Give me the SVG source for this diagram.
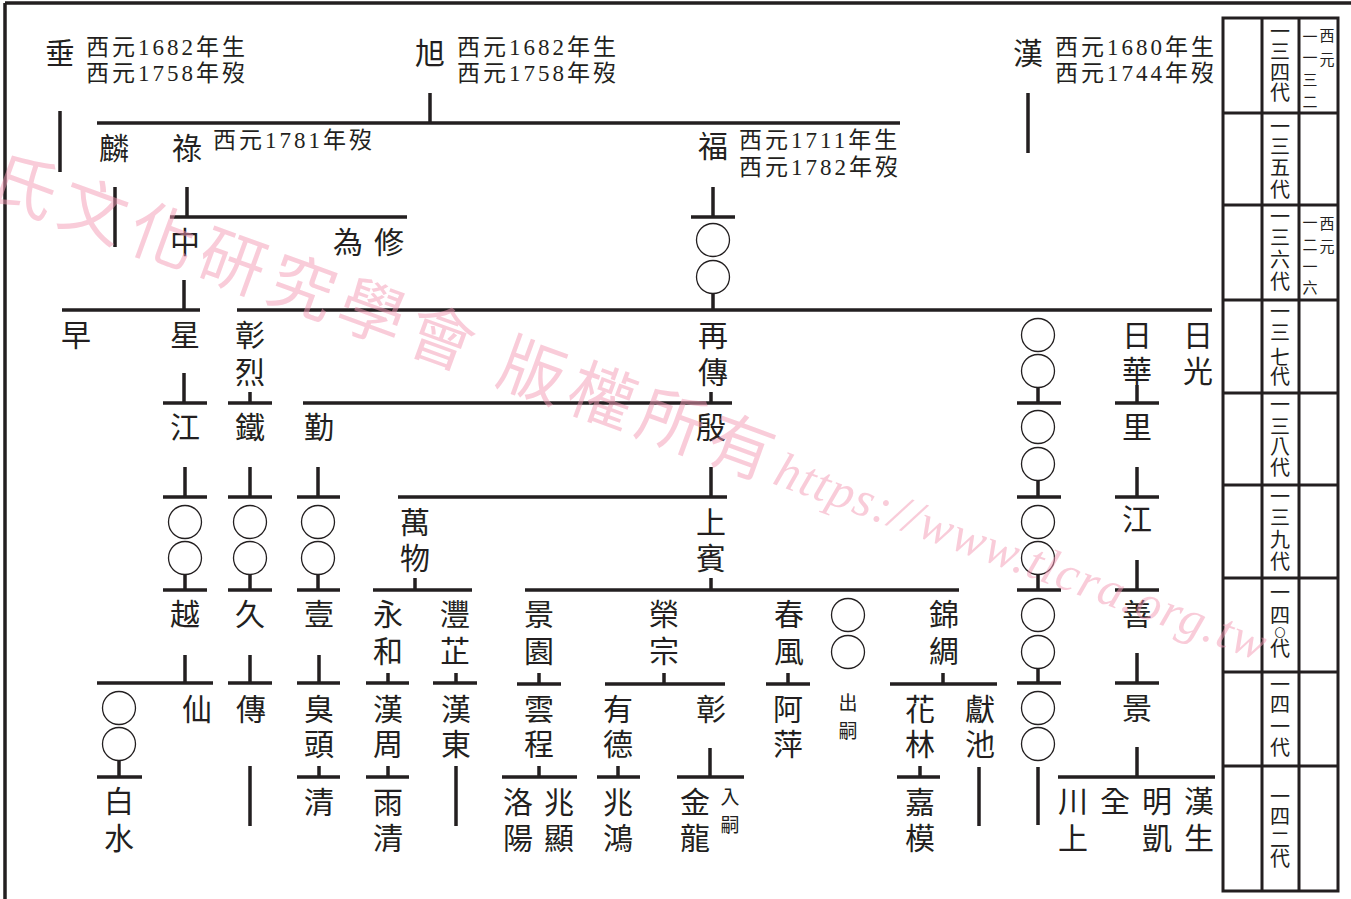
<svg xmlns="http://www.w3.org/2000/svg" width="1351" height="899" viewBox="0 0 1351 899">
<style>
.n{font-family:"Noto Sans CJK TC","Noto Sans CJK SC",sans-serif;font-size:30px;fill:#231f20;text-anchor:middle}
.d{font-family:"Liberation Serif","Noto Sans CJK TC",serif;font-size:23px;letter-spacing:3px;fill:#231f20}
.sm{font-family:"Noto Sans CJK TC",sans-serif;font-size:19px;fill:#231f20;text-anchor:middle}
.g{font-family:"Noto Sans CJK TC",sans-serif;font-size:20px;fill:#231f20;text-anchor:middle}
.t{font-family:"Noto Sans CJK TC",sans-serif;font-size:15px;fill:#231f20;text-anchor:middle}
.l{fill:none;stroke:#231f20;stroke-width:3.5}
.tb{fill:none;stroke:#231f20;stroke-width:3}
.c{fill:none;stroke:#231f20;stroke-width:1.3}
.wm{font-family:"Noto Sans CJK TC",sans-serif;font-size:66px;letter-spacing:8px;fill:#f59ab5;opacity:.5}
.wu{font-family:"Liberation Serif",serif;font-style:italic;font-size:50px;letter-spacing:1.5px}
</style>
<rect width="1351" height="899" fill="#ffffff"/>
<path class="l" d="M5 3H1351M5 3V899" stroke-width="4"/>

<g id="connectors">
<path class="l" d="M60 111V172M430 93V123M97 123H900M1028 93V153M115 187V247
M187 187V217M170 217H407M713 187V217M691 217H735M713 294V310
M184 280V310M62 310H200M237 310H1212
M184 373V403M163 403H207M250 392V403M228 403H272M711 392V403M303 403H732
M185 467V497M163 497H207M250 467V497M228 497H272M318 467V497M297 497H340M711 467V497M398 497H727
M185 575V590M163 590H207M250 575V590M228 590H272M318 575V590M297 590H340
M415 578V590M373 590H472M711 578V590M525 590H959
M1038 388V403M1017 403H1061M1038 481V497M1017 497H1061M1038 575V590M1017 590H1061M1038 668V683M1017 683H1061M1038 767V825
M1137 385V403M1115 403H1159M1137 467V497M1115 497H1159M1137 560V590M1115 590H1159M1137 653V683M1115 683H1159M1137 747V777M1058 777H1215
M185 655V683M97 683H213M250 655V683M228 683H272M319 655V683M297 683H340M388 673V683M366 683H409M456 673V683M433 683H477
M539 673V684M517 684H561M664 673V684M605 684H725M788 673V684M766 684H810M943 673V684M890 684H997
M119 761V777M97 777H142M250 766V826M319 766V777M297 777H340M388 766V777M366 777H409M456 766V826
M539 766V777M502 777H577M618 766V777M597 777H640M710 748V777M677 777H744M920 766V777M897 777H940M979 767V826"/>
</g>

<g id="circles">
<circle class="c" cx="713" cy="240" r="16.5"/><circle class="c" cx="713" cy="277" r="16.5"/>
<circle class="c" cx="185" cy="522" r="16.5"/><circle class="c" cx="185" cy="558" r="16.5"/>
<circle class="c" cx="250" cy="522" r="16.5"/><circle class="c" cx="250" cy="558" r="16.5"/>
<circle class="c" cx="318" cy="522" r="16.5"/><circle class="c" cx="318" cy="558" r="16.5"/>
<circle class="c" cx="848" cy="615" r="16.5"/><circle class="c" cx="848" cy="652" r="16.5"/>
<circle class="c" cx="119" cy="708" r="16.5"/><circle class="c" cx="119" cy="744" r="16.5"/>
<circle class="c" cx="1038" cy="335" r="16.5"/><circle class="c" cx="1038" cy="371" r="16.5"/>
<circle class="c" cx="1038" cy="427" r="16.5"/><circle class="c" cx="1038" cy="464" r="16.5"/>
<circle class="c" cx="1038" cy="522" r="16.5"/><circle class="c" cx="1038" cy="558" r="16.5"/>
<circle class="c" cx="1038" cy="615" r="16.5"/><circle class="c" cx="1038" cy="652" r="16.5"/>
<circle class="c" cx="1038" cy="708" r="16.5"/><circle class="c" cx="1038" cy="744" r="16.5"/>
</g>

<g id="node-chui"><text class="n" x="60" y="64">垂</text><text class="d" x="86" y="55">西元1682年生</text><text class="d" x="86" y="81">西元1758年歿</text></g>
<g id="node-xu"><text class="n" x="430" y="64">旭</text><text class="d" x="457" y="55">西元1682年生</text><text class="d" x="457" y="81">西元1758年歿</text></g>
<g id="node-han0"><text class="n" x="1028" y="64">漢</text><text class="d" x="1055" y="55">西元1680年生</text><text class="d" x="1055" y="81">西元1744年歿</text></g>
<g id="node-lin"><text class="n" x="114" y="159">麟</text></g>
<g id="node-lu"><text class="n" x="187" y="159">祿</text><text class="d" x="213" y="148">西元1781年歿</text></g>
<g id="node-fu"><text class="n" x="713" y="157">福</text><text class="d" x="739" y="148">西元1711年生</text><text class="d" x="739" y="175">西元1782年歿</text></g>
<g id="node-zhong"><text class="n" x="185" y="253">中</text></g>
<g id="node-weixiu"><text class="n" x="348" y="253">為</text><text class="n" x="389" y="253">修</text></g>
<g id="node-zao"><text class="n" x="76" y="346">早</text></g>
<g id="node-xing"><text class="n" x="185" y="346">星</text></g>
<g id="node-zhanglie"><text class="n" x="250" y="346"><tspan x="250" y="346">彰</tspan><tspan x="250" y="383">烈</tspan></text></g>
<g id="node-zaichuan"><text class="n" x="713" y="346"><tspan x="713" y="346">再</tspan><tspan x="713" y="383">傳</tspan></text></g>
<g id="node-rihua"><text class="n" x="1137" y="346"><tspan x="1137" y="346">日</tspan><tspan x="1137" y="382">華</tspan></text></g>
<g id="node-riguang"><text class="n" x="1198" y="346"><tspan x="1198" y="346">日</tspan><tspan x="1198" y="382">光</tspan></text></g>
<g id="node-jiang1"><text class="n" x="185" y="438">江</text></g>
<g id="node-tie"><text class="n" x="250" y="438">鐵</text></g>
<g id="node-qin"><text class="n" x="319" y="438">勤</text></g>
<g id="node-yin"><text class="n" x="711" y="438">殷</text></g>
<g id="node-li"><text class="n" x="1137" y="438">里</text></g>
<g id="node-wanwu"><text class="n" x="415" y="533"><tspan x="415" y="533">萬</tspan><tspan x="415" y="569">物</tspan></text></g>
<g id="node-shangbin"><text class="n" x="711" y="533"><tspan x="711" y="533">上</tspan><tspan x="711" y="569">賓</tspan></text></g>
<g id="node-jiang2"><text class="n" x="1137" y="530">江</text></g>
<g id="node-yue"><text class="n" x="185" y="625">越</text></g>
<g id="node-jiu"><text class="n" x="250" y="625">久</text></g>
<g id="node-yi"><text class="n" x="319" y="625">壹</text></g>
<g id="node-yonghe"><text class="n" x="388" y="625"><tspan x="388" y="625">永</tspan><tspan x="388" y="662">和</tspan></text></g>
<g id="node-lizhi"><text class="n" x="455" y="625"><tspan x="455" y="625">灃</tspan><tspan x="455" y="662">芷</tspan></text></g>
<g id="node-jingyuan"><text class="n" x="539" y="625"><tspan x="539" y="625">景</tspan><tspan x="539" y="662">園</tspan></text></g>
<g id="node-rongzong"><text class="n" x="664" y="625"><tspan x="664" y="625">榮</tspan><tspan x="664" y="662">宗</tspan></text></g>
<g id="node-chunfeng"><text class="n" x="789" y="625"><tspan x="789" y="625">春</tspan><tspan x="789" y="662">風</tspan></text></g>
<g id="node-jinchou"><text class="n" x="944" y="625"><tspan x="944" y="625">錦</tspan><tspan x="944" y="662">綢</tspan></text></g>
<g id="node-shan"><text class="n" x="1137" y="625">善</text></g>
<g id="node-xian"><text class="n" x="197" y="720">仙</text></g>
<g id="node-chuan"><text class="n" x="251" y="720">傳</text></g>
<g id="node-choutou"><text class="n" x="319" y="720"><tspan x="319" y="720">臭</tspan><tspan x="319" y="755">頭</tspan></text></g>
<g id="node-hanzhou"><text class="n" x="388" y="720"><tspan x="388" y="720">漢</tspan><tspan x="388" y="755">周</tspan></text></g>
<g id="node-handong"><text class="n" x="456" y="720"><tspan x="456" y="720">漢</tspan><tspan x="456" y="755">東</tspan></text></g>
<g id="node-yuncheng"><text class="n" x="539" y="720"><tspan x="539" y="720">雲</tspan><tspan x="539" y="755">程</tspan></text></g>
<g id="node-youde"><text class="n" x="618" y="720"><tspan x="618" y="720">有</tspan><tspan x="618" y="755">德</tspan></text></g>
<g id="node-zhang"><text class="n" x="711" y="720">彰</text></g>
<g id="node-aping"><text class="n" x="788" y="720"><tspan x="788" y="720">阿</tspan><tspan x="788" y="755">萍</tspan></text></g>
<g id="node-chusi"><text class="sm" x="848" y="710"><tspan x="848" y="710">出</tspan><tspan x="848" y="738">嗣</tspan></text></g>
<g id="node-hualin"><text class="n" x="920" y="720"><tspan x="920" y="720">花</tspan><tspan x="920" y="755">林</tspan></text></g>
<g id="node-xianchi"><text class="n" x="980" y="720"><tspan x="980" y="720">獻</tspan><tspan x="980" y="755">池</tspan></text></g>
<g id="node-jing2"><text class="n" x="1137" y="719">景</text></g>
<g id="node-baishui"><text class="n" x="119" y="812"><tspan x="119" y="812">白</tspan><tspan x="119" y="849">水</tspan></text></g>
<g id="node-qing"><text class="n" x="319" y="813">清</text></g>
<g id="node-yuqing"><text class="n" x="388" y="813"><tspan x="388" y="813">雨</tspan><tspan x="388" y="849">清</tspan></text></g>
<g id="node-luoyang"><text class="n" x="518" y="813"><tspan x="518" y="813">洛</tspan><tspan x="518" y="849">陽</tspan></text></g>
<g id="node-zhaoxian"><text class="n" x="559" y="813"><tspan x="559" y="813">兆</tspan><tspan x="559" y="849">顯</tspan></text></g>
<g id="node-zhaohong"><text class="n" x="618" y="813"><tspan x="618" y="813">兆</tspan><tspan x="618" y="849">鴻</tspan></text></g>
<g id="node-jinlong"><text class="n" x="695" y="813"><tspan x="695" y="813">金</tspan><tspan x="695" y="849">龍</tspan></text></g>
<g id="node-rusi"><text class="sm" x="730" y="804"><tspan x="730" y="804">入</tspan><tspan x="730" y="832">嗣</tspan></text></g>
<g id="node-jiamo"><text class="n" x="920" y="813"><tspan x="920" y="813">嘉</tspan><tspan x="920" y="849">模</tspan></text></g>
<g id="node-chuanshang"><text class="n" x="1073" y="812"><tspan x="1073" y="812">川</tspan><tspan x="1073" y="849">上</tspan></text></g>
<g id="node-quan"><text class="n" x="1115" y="812">全</text></g>
<g id="node-mingkai"><text class="n" x="1157" y="812"><tspan x="1157" y="812">明</tspan><tspan x="1157" y="849">凱</tspan></text></g>
<g id="node-hansheng"><text class="n" x="1199" y="812"><tspan x="1199" y="812">漢</tspan><tspan x="1199" y="849">生</tspan></text></g>

<g id="generation-table">
<path class="tb" d="M1223 18H1338V891H1223ZM1262 18V891M1299 18V891M1223 113H1338M1223 205H1338M1223 300H1338M1223 393H1338M1223 485H1338M1223 578H1338M1223 672H1338M1223 766H1338"/>
<text class="g"><tspan x="1280" y="39">一</tspan><tspan x="1280" y="59">三</tspan><tspan x="1280" y="80">四</tspan><tspan x="1280" y="100">代</tspan></text>
<text class="g"><tspan x="1280" y="134">一</tspan><tspan x="1280" y="154">三</tspan><tspan x="1280" y="175">五</tspan><tspan x="1280" y="197">代</tspan></text>
<text class="g"><tspan x="1280" y="224">一</tspan><tspan x="1280" y="245">三</tspan><tspan x="1280" y="267">六</tspan><tspan x="1280" y="289">代</tspan></text>
<text class="g"><tspan x="1280" y="319">一</tspan><tspan x="1280" y="340">三</tspan><tspan x="1280" y="365">七</tspan><tspan x="1280" y="384">代</tspan></text>
<text class="g"><tspan x="1280" y="412">一</tspan><tspan x="1280" y="434">三</tspan><tspan x="1280" y="454">八</tspan><tspan x="1280" y="475">代</tspan></text>
<text class="g"><tspan x="1280" y="504">一</tspan><tspan x="1280" y="525">三</tspan><tspan x="1280" y="547">九</tspan><tspan x="1280" y="569">代</tspan></text>
<text class="g"><tspan x="1280" y="600">一</tspan><tspan x="1280" y="623">四</tspan><tspan x="1280" y="637" font-size="11">〇</tspan><tspan x="1280" y="656">代</tspan></text>
<text class="g"><tspan x="1280" y="692">一</tspan><tspan x="1280" y="712">四</tspan><tspan x="1280" y="734">一</tspan><tspan x="1280" y="755">代</tspan></text>
<text class="g"><tspan x="1280" y="804">一</tspan><tspan x="1280" y="824">四</tspan><tspan x="1280" y="847">二</tspan><tspan x="1280" y="866">代</tspan></text>
<text class="t"><tspan x="1327" y="41">西</tspan><tspan x="1327" y="65">元</tspan><tspan x="1310" y="42">一</tspan><tspan x="1310" y="63">一</tspan><tspan x="1310" y="85">三</tspan><tspan x="1310" y="107">二</tspan></text>
<text class="t"><tspan x="1327" y="229">西</tspan><tspan x="1327" y="252">元</tspan><tspan x="1310" y="228">一</tspan><tspan x="1310" y="250">二</tspan><tspan x="1310" y="272">一</tspan><tspan x="1310" y="293">六</tspan></text>
</g>

<g id="watermark">
<text class="wm" x="-15" y="197" transform="rotate(20 -15 197)">氏文化研究學會 版權所有<tspan class="wu">https://www.tlcra.org.tw</tspan></text>
</g>
</svg>
